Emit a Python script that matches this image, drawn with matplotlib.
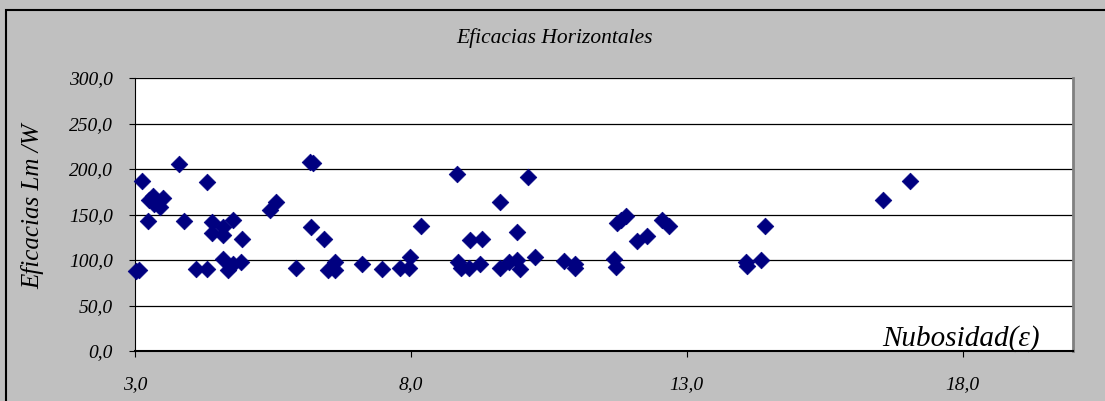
import matplotlib.pyplot as plt
from matplotlib.patches import Rectangle
from matplotlib.ticker import FuncFormatter

# Nubosidad (epsilon) vs eficacia luminosa horizontal (lm/W)
nubosidad = [3.02, 3.08, 3.13, 3.24, 3.26, 3.33, 3.35, 3.39, 3.45, 3.51,
             3.80, 3.88, 4.10, 4.30, 4.30, 4.39, 4.39, 4.59, 4.59, 4.77,
             4.59, 4.68, 4.77, 4.93, 4.94, 5.45, 5.55, 5.91, 6.17, 6.22,
             6.19, 6.43, 6.49, 6.63, 6.63, 7.11, 7.48, 7.81, 7.96, 7.98,
             8.18, 8.83, 8.86, 8.90, 9.05, 9.07, 9.25, 9.29, 9.61, 9.61,
             9.78, 9.93, 9.92, 9.98, 10.13, 10.25, 10.77, 10.97, 10.97, 11.68,
             11.71, 11.74, 11.80, 11.89, 12.10, 12.28, 12.55, 12.67, 14.07, 14.10,
             14.34, 14.41, 16.55, 17.05]
eficacia = [88.0, 89.0, 186.8, 143.0, 166.2, 170.2, 161.7, 164.2, 158.7, 168.1,
            205.5, 143.0, 90.0, 185.2, 90.0, 141.5, 129.4, 136.0, 127.6, 144.0,
            101.0, 89.0, 95.6, 98.0, 123.0, 155.0, 163.6, 90.8, 208.0, 207.0,
            136.7, 122.8, 89.0, 98.0, 89.0, 95.6, 89.7, 90.8, 90.8, 103.6,
            137.5, 194.8, 98.0, 90.8, 90.8, 122.0, 95.3, 123.0, 163.6, 90.8,
            98.0, 100.0, 130.5, 90.0, 191.2, 103.0, 99.2, 95.6, 90.8, 101.0,
            92.6, 140.5, 144.0, 148.5, 121.0, 126.5, 144.0, 137.5, 98.0, 93.4,
            100.0, 137.8, 166.0, 186.3]

x_ticks = [3, 8, 13, 18]
y_ticks = [0, 50, 100, 150, 200, 250, 300]

serif = ['Liberation Serif', 'DejaVu Serif']
grey = '#C0C0C0'


def coma(v, pos):
    return f"{v:.1f}".replace('.', ',')


fig = plt.figure(figsize=(11.05, 4.01), dpi=100)
fig.patch.set_facecolor(grey)
# borde exterior del grafico (recortado a la derecha y abajo)
fig.patches.append(Rectangle((6 / 1105, -0.05), 1.2, 1 - 10 / 401 + 0.05,
                             transform=fig.transFigure, fill=False,
                             edgecolor='black', linewidth=1.5))

ax = fig.add_axes([135 / 1105, 1 - 351 / 401, 938 / 1105, 273 / 401])
ax.set_facecolor('white')

ax.scatter(nubosidad, eficacia, marker='D', s=72, color='#000080',
           edgecolors='#000080', linewidths=0.5, zorder=3, clip_on=False)

ax.set_xlim(3, 20)
ax.set_ylim(0, 300)
ax.set_xticks(x_ticks)
ax.set_yticks(y_ticks)
ax.xaxis.set_major_formatter(FuncFormatter(coma))
ax.yaxis.set_major_formatter(FuncFormatter(coma))

ax.grid(True, axis='y', color='black', linewidth=0.9, zorder=1)
ax.set_axisbelow(True)
ax.spines['top'].set_visible(False)
ax.spines['right'].set_color('#808080')
ax.spines['right'].set_linewidth(2)
ax.spines['left'].set_color('black')
ax.spines['bottom'].set_color('black')
ax.spines['bottom'].set_linewidth(1.5)

ax.tick_params(axis='both', direction='out', length=4, width=0.8, color='black')
ax.tick_params(axis='x', pad=14)
ax.tick_params(axis='y', pad=12)
for lab in ax.get_xticklabels() + ax.get_yticklabels():
    lab.set_family(serif)
    lab.set_style('italic')
    lab.set_fontsize(14)

ax.set_ylabel('Eficacias Lm /W', family=serif, style='italic', fontsize=18)
ax.yaxis.set_label_coords(-0.097, 0.53)

ax.text(0.965, 0.02, 'Nubosidad(\u03b5)', transform=ax.transAxes, ha='right',
        va='baseline', family=serif, style='italic', fontsize=21)

fig.text(0.502, 0.905, 'Eficacias Horizontales', ha='center', va='center',
         family=serif, style='italic', fontsize=15.5)

fig.savefig('out.png', dpi=100, facecolor=fig.get_facecolor())
